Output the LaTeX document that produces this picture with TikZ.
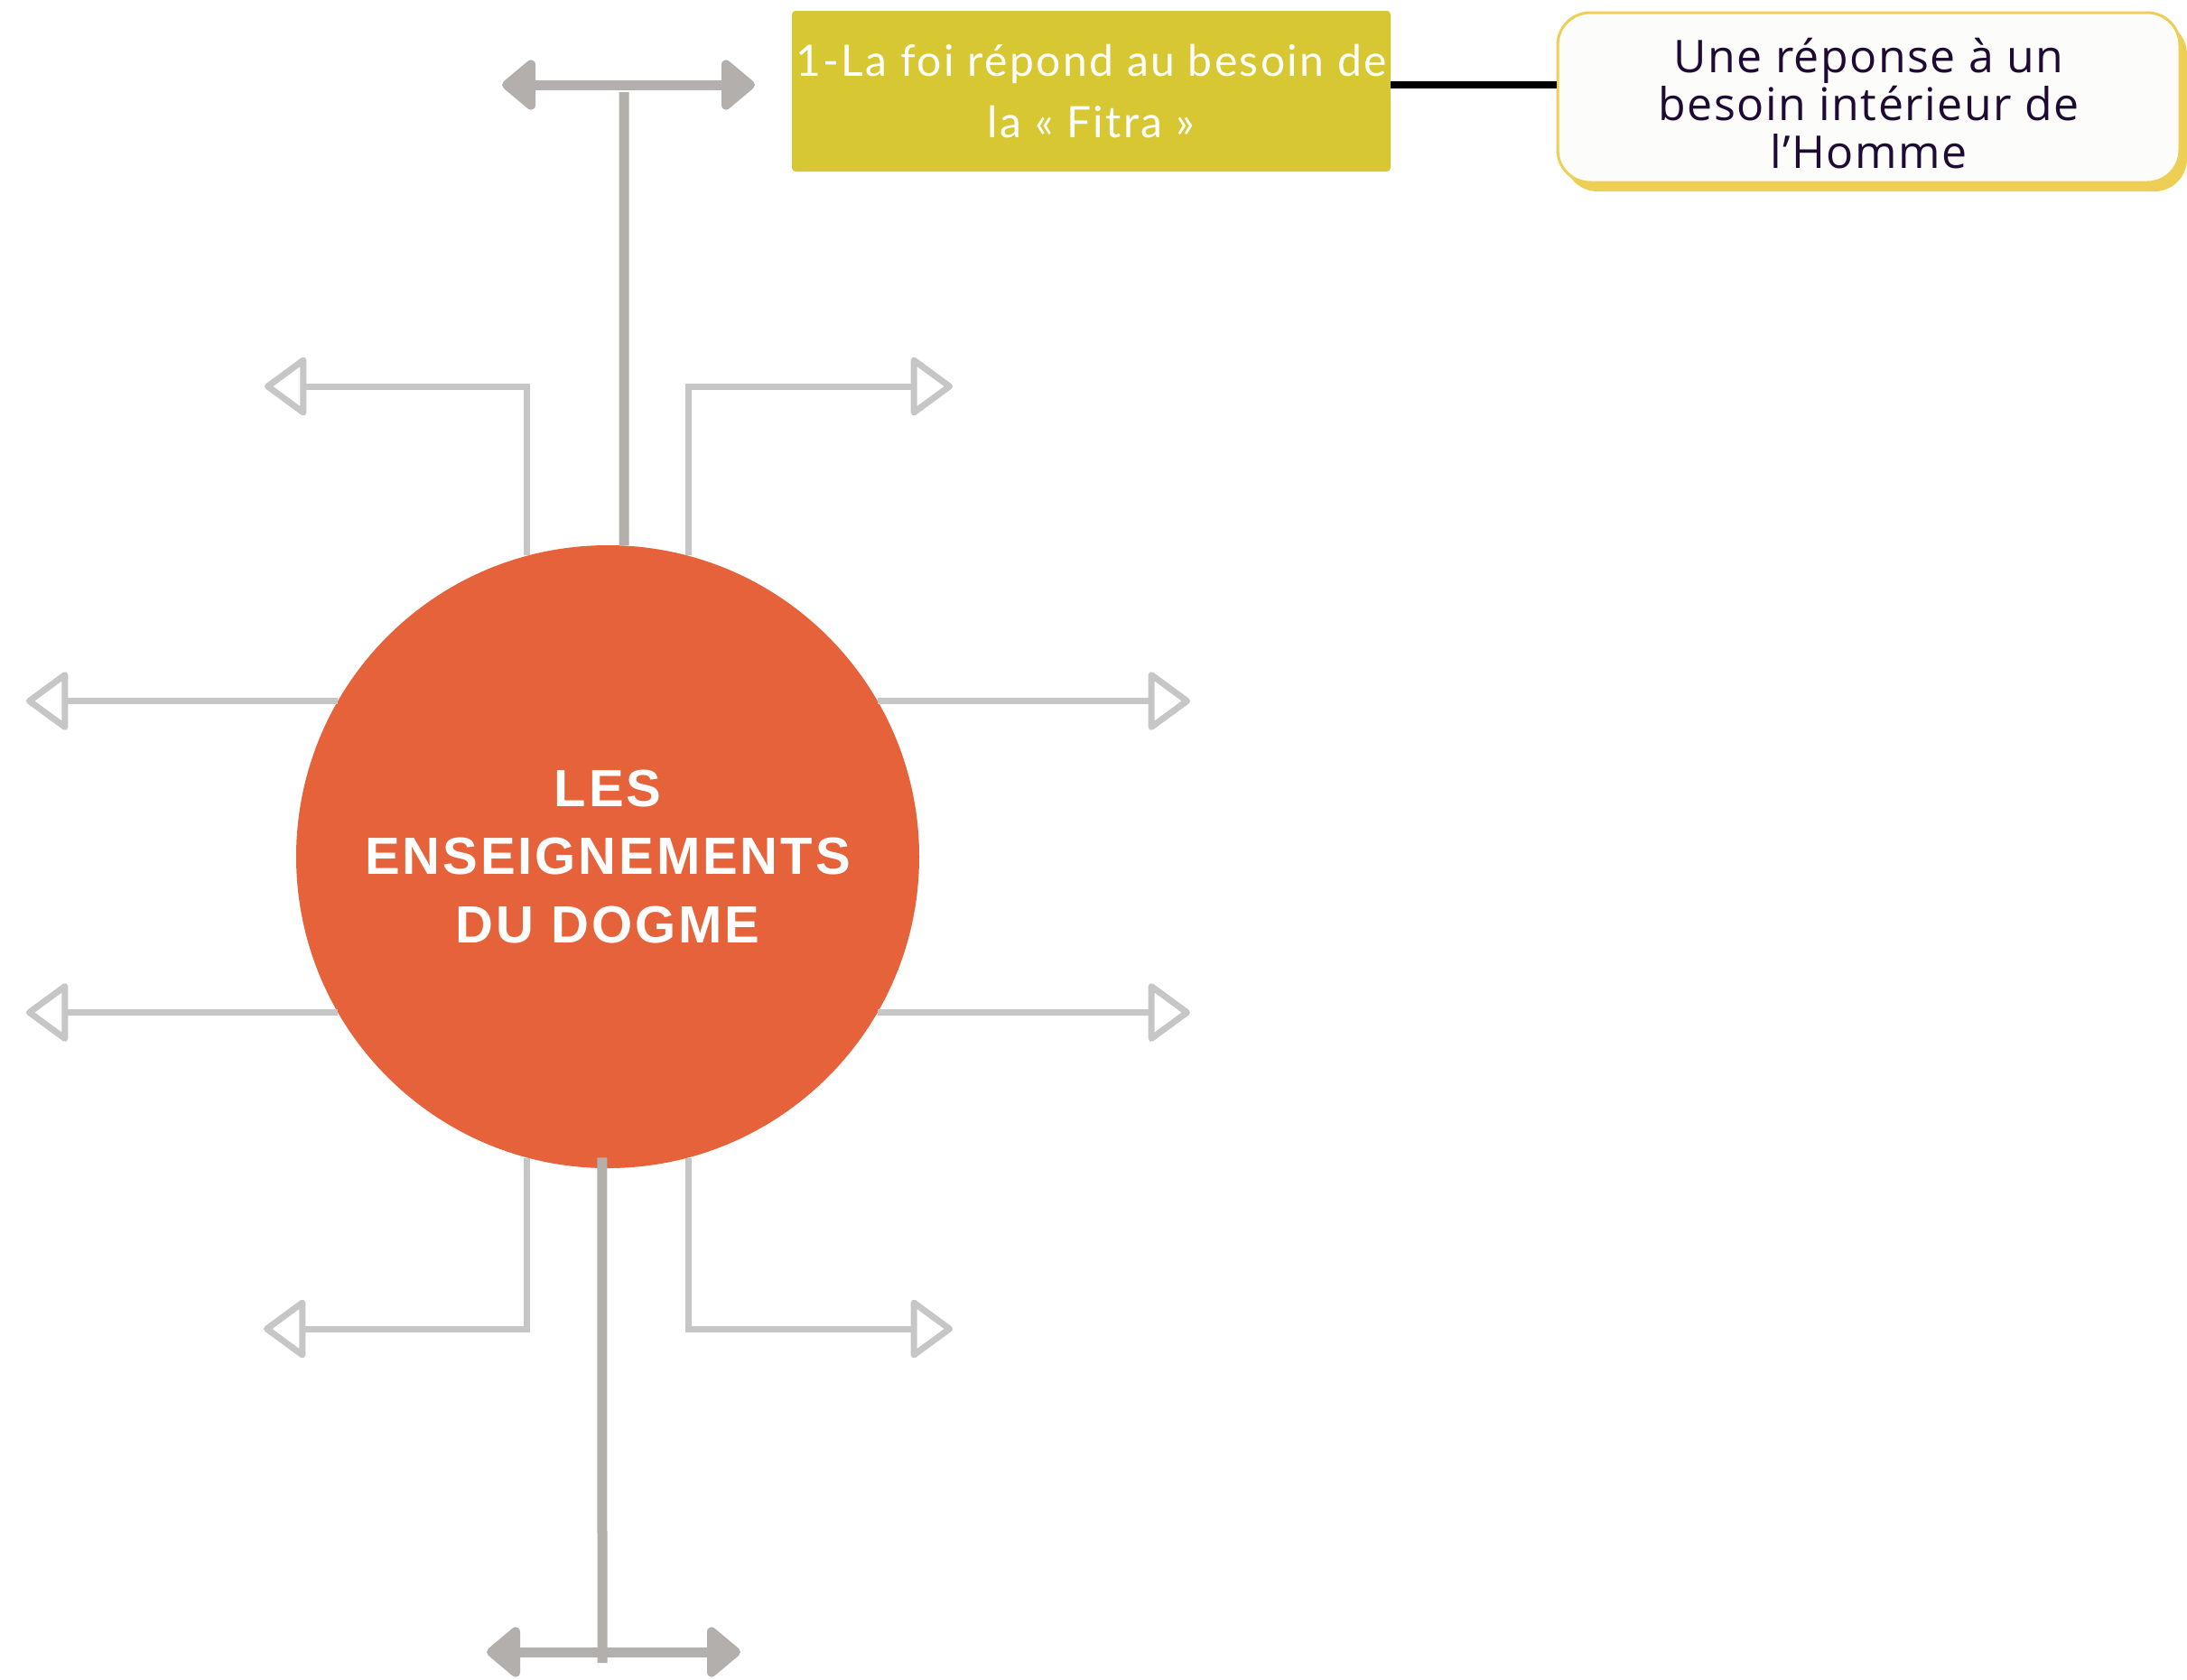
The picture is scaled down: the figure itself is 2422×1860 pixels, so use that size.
\documentclass[tikz,border=0pt]{standalone}
\usepackage{fontspec}
\usetikzlibrary{arrows.meta, shadows}
\newfontfamily\hubfont{Liberation Sans}[LetterSpace=5]
\newfontfamily\ideafont{Lato}[LetterSpace=5]
\newfontfamily\notefont{Open Sans}[LetterSpace=3]
\definecolor{dogmeorange}{HTML}{E5623A}
\definecolor{fitraolive}{HTML}{D6C733}
\definecolor{notegold}{HTML}{EDCF55}
\definecolor{notepaper}{HTML}{FCFCFA}
\definecolor{noteink}{HTML}{1E0B33}
\definecolor{teegrey}{HTML}{B3AFAC}
\definecolor{branchgrey}{HTML}{C6C6C6}
\tikzstyle{hub} = [circle, minimum size=345pt, inner sep=0pt, fill=dogmeorange,
text=white, align=center, font=\hubfont\bfseries\fontsize{29}{37.8}\selectfont]
\tikzstyle{idea} = [rectangle, rounded corners=2pt, minimum width=331.5pt, minimum height=89pt,
inner sep=0pt, align=center, fill=fitraolive, text=white, font=\ideafont\fontsize{24}{34}\selectfont]
\tikzstyle{note} = [rectangle, rounded corners=18pt, minimum width=344.5pt, minimum height=94pt,
inner sep=0pt, align=center, draw=notegold, line width=1.5pt, fill=notepaper, text=noteink,
drop shadow={shadow xshift=4pt, shadow yshift=-5pt, fill=notegold, opacity=1},
font=\notefont\fontsize{25}{26.5}\selectfont]
\tikzstyle{tee} = [line width=5.5pt, teegrey, {Triangle[round, length=20pt, width=32pt]}-{Triangle[round, length=20pt, width=32pt]}]
\tikzstyle{stem} = [line width=5.5pt, teegrey]
\tikzstyle{branch} = [line width=3.5pt, branchgrey, -{Triangle[open, round, length=24.5pt, width=35pt]}]
\tikzstyle{link} = [line width=4pt, black]

\begin{document}
\begin{tikzpicture}[x=0.5pt, y=-0.5pt]
\useasboundingbox (0,0) rectangle (2422,1860);

% ------------------------- nodes -------------------------
% ----- centre
\node(dogme)[hub] at (673,949) {LES\\ENSEIGNEMENTS\\DU DOGME};
% ----- idea 1
\node(fitra)[idea] at (1208.5,101) {1-La foi répond au besoin de\\la « Fitra »};
\node(reponse)[note] at (2069.5,108) {\rule{0pt}{32pt}Une réponse à un\\besoin intérieur de\\l’Homme\rule[-7pt]{0pt}{7pt}};
% ----- free ends
\coordinate (tl) at (293,428);
\coordinate (tr) at (1055,428);
\coordinate (ml) at (29,776.5);
\coordinate (mr) at (1318,776.5);
\coordinate (ll) at (29,1121.5);
\coordinate (lr) at (1318,1121.5);
\coordinate (bl) at (292,1472);
\coordinate (br) at (1055,1472);
\coordinate (ttop) at (691,102);
\coordinate (tw) at (556,94);
\coordinate (te) at (836,94);
\coordinate (bfoot) at (667,1842);
\coordinate (bw) at (539,1830);
\coordinate (be) at (820,1830);

% ------------------------- connections -------------------------
\draw[branch](dogme.105) |- (tl);
\draw[branch](dogme.75) |- (tr);
\draw[branch](dogme.150) -- (ml);
\draw[branch](dogme.30) -- (mr);
\draw[branch](dogme.210) -- (ll);
\draw[branch](dogme.330) -- (lr);
\draw[branch](dogme.255) |- (bl);
\draw[branch](dogme.285) |- (br);
\draw[stem](dogme.87) -- (ttop);
\draw[tee](tw) -- (te);
\draw[stem]([yshift=6pt]dogme.269) -- (bfoot);
\draw[tee](bw) -- (be);
\draw[link]([yshift=3.5pt]fitra.east) -- ([yshift=3.5pt]fitra.east -| reponse.west);
\end{tikzpicture}
\end{document}
